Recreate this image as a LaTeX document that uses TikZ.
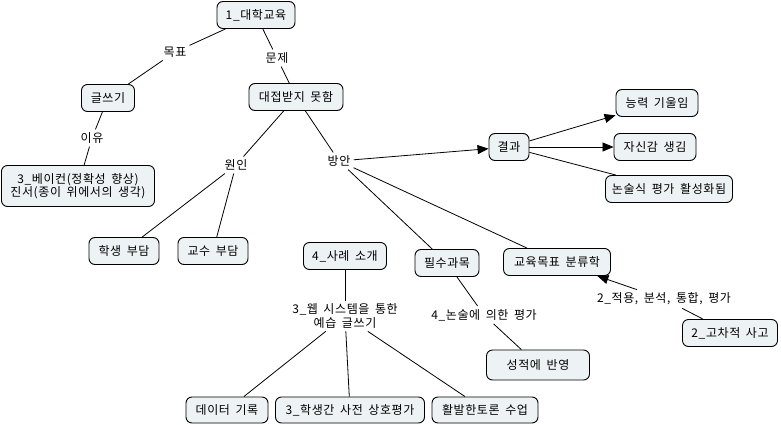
\documentclass[tikz,border=0pt]{standalone}
\usepackage{fontspec}
\setmainfont[LetterSpace=5.0,WordSpace=1.7]{Noto Sans CJK KR}
\usetikzlibrary{arrows.meta}
\definecolor{boxfill}{HTML}{EDF3F5}
\begin{document}
\begin{tikzpicture}[x=1pt,y=-1pt,
 concept/.style={draw, fill=boxfill, rounded corners=6pt, line width=0.9pt, minimum height=27pt, inner xsep=3pt, inner ysep=2pt, font=\fontsize{12}{13.5}\selectfont, align=center},
 linkl/.style={inner sep=3pt, font=\fontsize{12}{13.5}\selectfont, align=center},
 conn/.style={line width=0.8pt},
 arr/.style={conn, -{Triangle[length=11pt,width=9pt]}}]
\useasboundingbox[fill=white] (0,0) rectangle (781,425);
% concepts
\node[concept, minimum width=78] (daehak) at (256,15) {1\_대학교육};
\node[concept, minimum width=53] (glsseugi) at (108,98) {글쓰기};
\node[concept, minimum width=94] (daejeop) at (296,97) {대접받지 못함};
\node[concept, minimum width=153, minimum height=41] (bacon) at (78,186) {3\_베이컨(정확성 향상)\\진서(종이 위에서의 생각)};
\node[concept, minimum width=70] (haksaeng) at (124,251) {학생 부담};
\node[concept, minimum width=70] (gyosu) at (213,251) {교수 부담};
\node[concept, minimum width=83] (sarye) at (345,256) {4\_사례 소개};
\node[concept, minimum width=64] (pilsu) at (447,263) {필수과목};
\node[concept, minimum width=107] (bunryu) at (557,262) {교육목표 분류학};
\node[concept, minimum width=40] (gyeolgwa) at (509,147) {결과};
\node[concept, minimum width=82] (neungryeok) at (657,103) {능력 기울임};
\node[concept, minimum width=82] (jasingam) at (655,147) {자신감 생김};
\node[concept, minimum width=127] (nonsul) at (669,189) {논술식 평가 활성화됨};
\node[concept, minimum width=95] (gochajeok) at (730,333) {2\_고차적 사고};
\node[concept, minimum width=103, minimum height=30] (seongjeok) at (538,365) {성적에 반영};
\node[concept, minimum width=82, minimum height=26] (data) at (227,410) {데이터 기록};
\node[concept, minimum width=149, minimum height=26] (sangho) at (350,410) {3\_학생간 사전 상호평가};
\node[concept, minimum width=106, minimum height=26] (toron) at (485,410) {활발한토론 수업};
% linking phrases
\node[linkl] (mokpyo) at (175,52) {목표};
\node[linkl] (munje) at (277,58) {문제};
\node[linkl] (iyu) at (92,138) {이유};
\node[linkl] (wonin) at (236,165) {원인};
\node[linkl] (bangan) at (339,161) {방안};
\node[linkl] (web) at (345,316) {3\_웹 시스템을 통한\\예습 글쓰기};
\node[linkl] (nonsulpg) at (484,315) {4\_논술에 의한 평가};
\node[linkl] (jeogyong) at (664,299) {2\_적용, 분석, 통합, 평가};
% connectors
\draw[conn] (daehak) -- (mokpyo);
\draw[conn] (mokpyo) -- (glsseugi);
\draw[conn] (daehak) -- (munje);
\draw[conn] (munje) -- (daejeop);
\draw[conn] (glsseugi) -- (iyu);
\draw[conn] (iyu) -- (bacon);
\draw[conn] (daejeop) -- (wonin);
\draw[conn] (wonin) -- (haksaeng);
\draw[conn] (wonin) -- (gyosu);
\draw[conn] (daejeop) -- (bangan);
\draw[arr] (bangan) -- (gyeolgwa);
\draw[conn] (bangan) -- (pilsu);
\draw[conn] (bangan) -- (bunryu);
\draw[arr] (gyeolgwa) -- (neungryeok);
\draw[arr] (gyeolgwa) -- (jasingam);
\draw[conn] (gyeolgwa) -- (nonsul);
\draw[conn] (sarye) -- (web);
\draw[conn] (web) -- (data);
\draw[conn] (web) -- (sangho);
\draw[conn] (web) -- (toron);
\draw[conn] (pilsu) -- (nonsulpg);
\draw[conn] (nonsulpg) -- (seongjeok);
\draw[conn] (gochajeok) -- (jeogyong);
\draw[arr] (jeogyong) -- (bunryu);
\end{tikzpicture}
\end{document}
